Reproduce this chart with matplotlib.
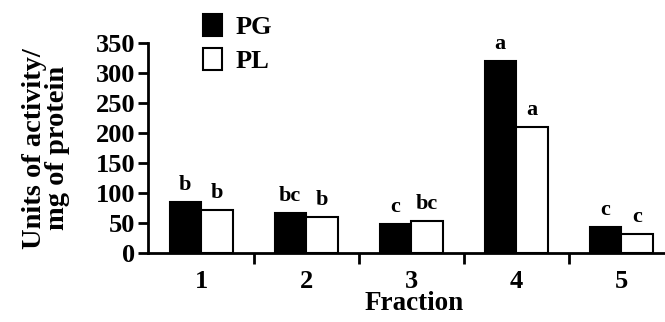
import numpy as np
import matplotlib.pyplot as plt
from matplotlib.patches import Patch

fractions = ['1', '2', '3', '4', '5']
pg = [86, 67, 49, 321, 44]
pl = [72, 61, 54, 210, 33]
pg_letters = ['b', 'bc', 'c', 'a', 'c']
pl_letters = ['b', 'b', 'bc', 'a', 'c']

plt.rcParams['font.family'] = 'Liberation Serif'
plt.rcParams['font.weight'] = 'bold'

fig = plt.figure(figsize=(6.65, 3.22), dpi=100)
ax = fig.add_axes([0.2226, 0.2133, 0.7774, 0.6522])

x = np.arange(len(fractions))
w = 0.3
b1 = ax.bar(x - w / 2, pg, w, color='black', edgecolor='black', linewidth=1.5, label='PG')
b2 = ax.bar(x + w / 2, pl, w, color='white', edgecolor='black', linewidth=1.5, label='PL')

for rect, lab in zip(b1, pg_letters):
    ax.annotate(lab, (rect.get_x() + rect.get_width() / 2, rect.get_height()),
                xytext=(0, 5), textcoords='offset points', ha='center', va='bottom',
                fontsize=16, fontweight='bold')
for rect, lab in zip(b2, pl_letters):
    ax.annotate(lab, (rect.get_x() + rect.get_width() / 2, rect.get_height()),
                xytext=(0, 5), textcoords='offset points', ha='center', va='bottom',
                fontsize=16, fontweight='bold')

ax.set_xlim(-0.505, 4.419)
ax.set_ylim(0, 350)
ax.set_yticks(range(0, 351, 50))
ax.set_xticks(x)
ax.set_xticklabels(fractions)
ax.set_xticks(x[:-1] + 0.5, minor=True)
ax.tick_params(axis='x', which='major', length=0, pad=12, labelsize=19)
ax.tick_params(axis='x', which='minor', length=8, width=2, direction='out')
ax.tick_params(axis='y', length=7, width=2, labelsize=19, pad=2)

for s in ['top', 'right']:
    ax.spines[s].set_visible(False)
for s in ['left', 'bottom']:
    ax.spines[s].set_linewidth(2)

ax.set_xlabel('Fraction', fontsize=19.5, fontweight='bold')
ax.xaxis.set_label_coords(0.514, -0.18)
ax.set_ylabel('Units of activity/\nmg of protein', fontsize=20.5, fontweight='bold',
              linespacing=0.85, labelpad=19)

handles = [Patch(facecolor='black', edgecolor='black', linewidth=1.5),
           Patch(facecolor='white', edgecolor='black', linewidth=1.5)]
fig.legend(handles, ['PG', 'PL'], loc='upper left', bbox_to_anchor=(0.269, 1.03),
           frameon=False, fontsize=19, handlelength=0.75, handleheight=0.9,
           handletextpad=0.5, labelspacing=0.35)

fig.savefig('out.png', dpi=100)
